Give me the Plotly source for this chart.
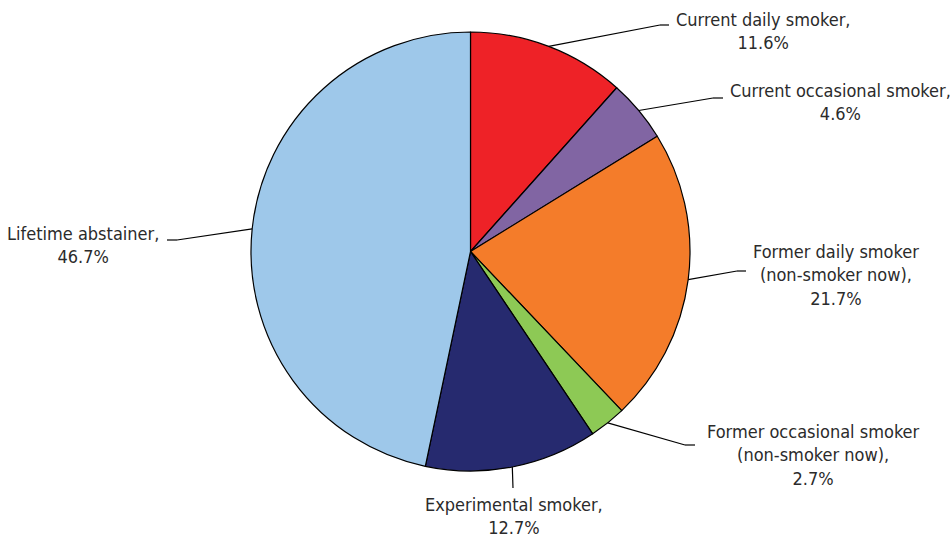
import math
import plotly.graph_objects as go

# Smoking status shares (%)
categories = [
    "Current daily smoker",
    "Current occasional smoker",
    "Former daily smoker<br>(non-smoker now)",
    "Former occasional smoker<br>(non-smoker now)",
    "Experimental smoker",
    "Lifetime abstainer",
]
shares = [11.6, 4.6, 21.7, 2.7, 12.7, 46.7]
slice_colors = ["#EE2227", "#8165A3", "#F47C2A", "#8DC955", "#262A6F", "#9EC8EA"]

W, H = 951, 538
CX, CY, R = 470.5, 251.5, 219.5

# Leader-line elbow and end offsets, and label centres (pixels)
elbows = [(660, 25), (713, 98), (737, 271), (685, 445), (513, 488), (177, 240)]
line_ends = [(669, 25), (723, 98), (746, 271), (695, 445), (513, 488), (167, 240)]
label_pos = [(763, 31), (840, 102), (836, 275), (813, 455), (514, 516), (83, 245)]


def px(x):
    return x / W


def py(y):
    return 1 - y / H


fig = go.Figure(
    go.Pie(
        labels=categories,
        values=shares,
        sort=False,
        direction="clockwise",
        rotation=0,
        marker=dict(colors=slice_colors, line=dict(color="#000000", width=1.2)),
        textinfo="none",
        hoverinfo="label+percent",
        showlegend=False,
        domain=dict(x=[px(CX - R), px(CX + R)], y=[py(CY + R), py(CY - R)]),
    )
)

shapes = []
annotations = []
total = sum(shares)
cum = 0.0
font = dict(family="Liberation Sans Narrow, Arial Narrow, DejaVu Sans Condensed, sans-serif",
            size=18, color="#2b2b2b")
for name, val, elb, end, lp in zip(categories, shares, elbows, line_ends, label_pos):
    mid = (cum + val / 2) / total * 2 * math.pi
    cum += val
    ax = CX + R * math.sin(mid)
    ay = CY - R * math.cos(mid)
    for (x0, y0), (x1, y1) in [((ax, ay), elb), (elb, end)]:
        if (x0, y0) == (x1, y1):
            continue
        shapes.append(dict(type="line", xref="paper", yref="paper",
                           x0=px(x0), y0=py(y0), x1=px(x1), y1=py(y1),
                           line=dict(color="#000000", width=1.2)))
    annotations.append(dict(
        xref="paper", yref="paper", x=px(lp[0]), y=py(lp[1]),
        xanchor="center", yanchor="middle", showarrow=False, align="center",
        text=f"{name},<br>{val}%", font=font,
    ))

fig.update_layout(
    width=W, height=H,
    margin=dict(l=0, r=0, t=0, b=0),
    paper_bgcolor="#ffffff",
    plot_bgcolor="#ffffff",
    shapes=shapes,
    annotations=annotations,
)

fig.write_html("out.html")
